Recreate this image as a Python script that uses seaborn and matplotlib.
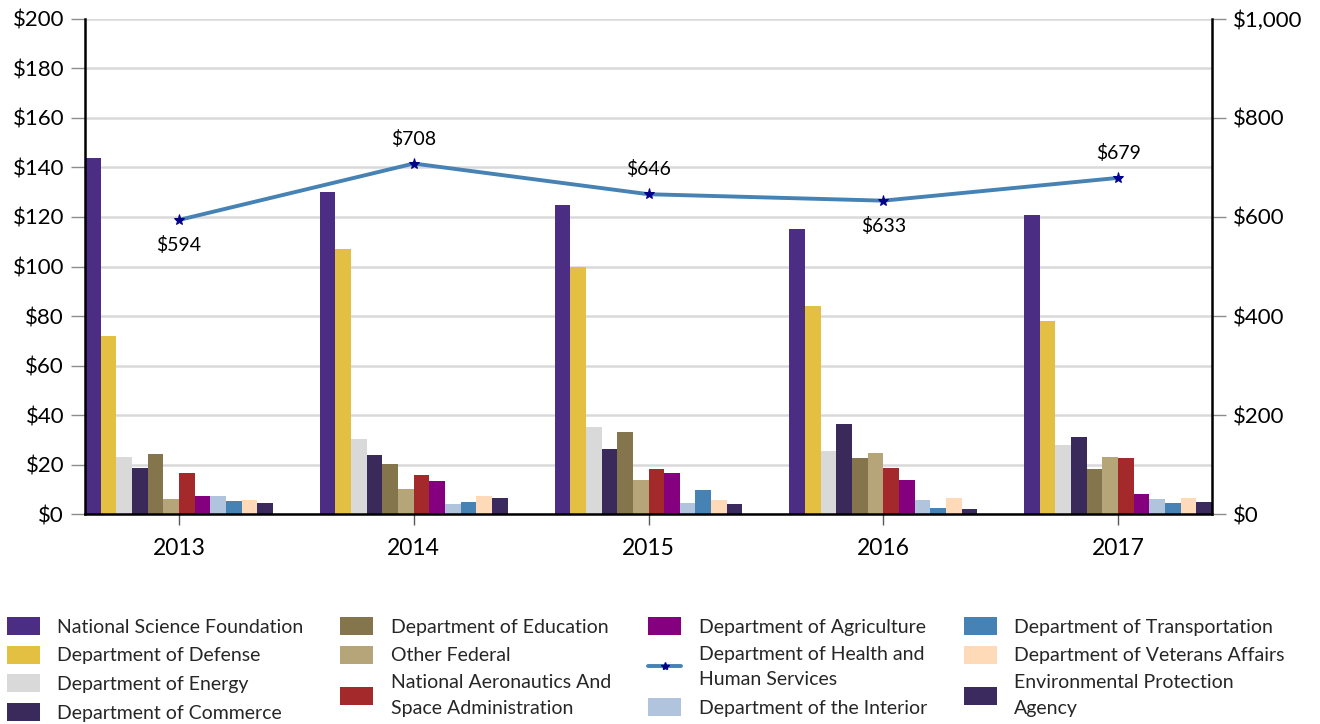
import numpy as np
import pandas as pd
import matplotlib
matplotlib.use("Agg")
import matplotlib.pyplot as plt
from matplotlib.patches import Patch
from matplotlib.lines import Line2D
from matplotlib.ticker import FuncFormatter
import seaborn as sns

# ---- data ($ millions) ----
years = ["2013", "2014", "2015", "2016", "2017"]

nsf = [144, 130, 125, 115, 121]
defense = [72, 107, 100, 84, 78]
energy = [23, 30.5, 35, 25.5, 27.7]
commerce = [18.4, 23.8, 26.1, 36.3, 31.0]
education = [24.2, 20.2, 33.2, 22.8, 18.0]
other_federal = [6.0, 10.0, 13.7, 24.5, 23.1]
nasa = [16.4, 15.7, 18.0, 18.4, 22.7]
agriculture = [7.4, 13.4, 16.4, 13.7, 8.1]
interior = [7.4, 4.0, 4.3, 5.6, 6.0]
transportation = [5.4, 4.8, 9.7, 2.4, 4.4]
veterans = [5.6, 7.3, 5.8, 6.6, 6.6]
epa = [4.3, 6.3, 3.9, 2.2, 4.8]

# HHS on the secondary axis
hhs = [594, 708, 646, 633, 679]

bar_series = {
    "National Science Foundation": nsf,
    "Department of Defense": defense,
    "Department of Energy": energy,
    "Department of Commerce": commerce,
    "Department of Education": education,
    "Other Federal": other_federal,
    "National Aeronautics And\nSpace Administration": nasa,
    "Department of Agriculture": agriculture,
    "Department of the Interior": interior,
    "Department of Transportation": transportation,
    "Department of Veterans Affairs": veterans,
    "Environmental Protection\nAgency": epa,
}
bar_colors = ["#4B2E83", "#E3BF42", "#D9D9D9", "#3A2A5C", "#85754D", "#B7A57A",
              "#A4292B", "#84007F", "#B0C4DE", "#4682B4", "#FFDAB9", "#3B2A5E"]
hhs_label = "Department of Health and\nHuman Services"
line_color = "#4682B4"
marker_color = "#00008B"

rows = []
for name, vals in bar_series.items():
    for y, v in zip(years, vals):
        rows.append({"year": y, "agency": name, "value": v})
df = pd.DataFrame(rows)

sns.set_theme(style="white")
plt.rcParams["font.family"] = ["Lato", "DejaVu Sans"]

fig = plt.figure(figsize=(13.2, 7.24), dpi=100)
ax = fig.add_axes([0.0644, 0.290, 0.8538, 0.6838])

sns.barplot(data=df, x="year", y="value", hue="agency", hue_order=list(bar_series),
            palette=bar_colors, saturation=1, errorbar=None, width=0.8,
            linewidth=0, legend=False, ax=ax, zorder=2)

ax.set_xlim(-0.4, len(years) - 0.6)
ax.set_ylim(0, 200)
ax.set_yticks(np.arange(0, 201, 20))
ax.yaxis.set_major_formatter(FuncFormatter(lambda v, p: f"${v:,.0f}"))
ax.grid(axis="y", color="#D9D9D9", linewidth=1.8, zorder=0)
ax.set_axisbelow(True)
ax.set_xlabel("")
ax.set_ylabel("")
ax.tick_params(axis="y", left=True, length=10, width=1, color="#8C8C8C",
               labelsize=16, pad=5, labelcolor="black")
ax.tick_params(axis="x", bottom=True, length=8, width=1, color="#595959",
               labelsize=16.5, pad=9, labelcolor="black")
for s in ["left", "bottom"]:
    ax.spines[s].set_color("black")
    ax.spines[s].set_linewidth(1.8)
ax.spines["top"].set_visible(False)
ax.spines["right"].set_visible(False)

# secondary axis for HHS
ax2 = ax.twinx()
xpos = np.arange(len(years))
sns.lineplot(x=xpos, y=hhs, ax=ax2, color=line_color, linewidth=2.8,
             marker="*", markersize=8, markerfacecolor=marker_color,
             markeredgecolor=marker_color, zorder=5)
ax2.set_ylim(0, 1000)
ax2.set_yticks(np.arange(0, 1001, 200))
ax2.yaxis.set_major_formatter(FuncFormatter(lambda v, p: f"${v:,.0f}"))
ax2.tick_params(axis="y", right=True, length=10, width=1, color="#8C8C8C",
                labelsize=16, pad=5, labelcolor="black")
ax2.spines["right"].set_color("black")
ax2.spines["right"].set_linewidth(1.8)
for s in ["top", "left", "bottom"]:
    ax2.spines[s].set_visible(False)
ax2.grid(False)

label_side = [-1, 1, 1, -1, 1]
for x, v, side in zip(xpos, hhs, label_side):
    ax2.annotate(f"${v:,}", (x, v), xytext=(0, 18 * side), textcoords="offset points",
                 ha="center", va="center", fontsize=14, color="black")

# legend
handles = [Patch(facecolor=c, edgecolor="none") for c in bar_colors]
labels = list(bar_series)
hhs_handle = Line2D([], [], color=line_color, linewidth=2.8, marker="*",
                    markersize=6, markerfacecolor=marker_color, markeredgecolor=marker_color)
idx = labels.index("Department of Agriculture") + 1
handles.insert(idx, hhs_handle)
labels.insert(idx, hhs_label)
leg = fig.legend(handles, labels, loc="upper left", bbox_to_anchor=(0.005, 0.148),
                 ncol=4, frameon=False, fontsize=14, handlelength=1.7, handleheight=1.05,
                 handletextpad=0.9, columnspacing=1.9, labelspacing=0.52,
                 borderpad=0, borderaxespad=0,
                 prop={"size": 14, "family": ["Lato", "DejaVu Sans"]})
for t in leg.get_texts():
    t.set_linespacing(1.6)

fig.savefig("out.png", dpi=100)
